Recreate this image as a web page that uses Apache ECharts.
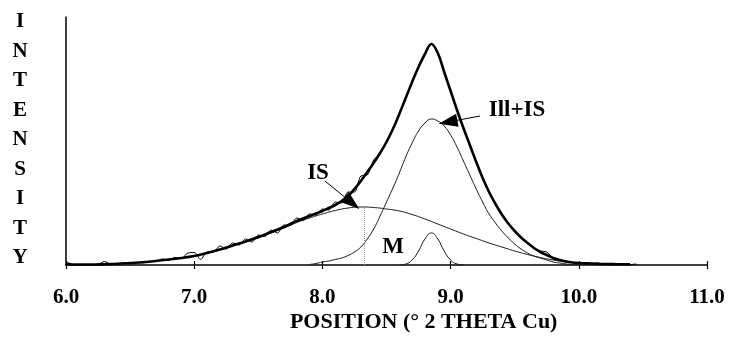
<!DOCTYPE html>
<html>
<head>
<meta charset="utf-8">
<script src="https://cdn.jsdelivr.net/npm/echarts@6/dist/echarts.min.js"></script>
<style>
html,body{margin:0;padding:0;background:#fff;}
#c{width:729px;height:353px;}
</style>
</head>
<body>
<div id="c"></div>
<script>
// ---- data (intensity in arbitrary units) ----
var xTicks = ['6.0','7.0','8.0','9.0','10.0','11.0'];
var xTitle = 'POSITION (° 2 THETA Cu)';
var yLetters = ['I','N','T','E','N','S','I','T','Y'];

var isX = [6.0,6.1,6.2,6.3,6.4,6.5,6.6,6.7,6.8,6.9,7.0,7.1,7.2,7.3,7.4,7.5,7.6,7.7,7.8,7.9,8.0,8.1,8.2,8.3,8.4,8.5,8.6,8.7,8.8,8.9,9.0,9.1,9.2,9.3,9.4,9.5,9.6,9.7,9.8,9.9,10.0,10.1,10.2,10.3];
var isY = [0,0.2,0.4,0.7,1.2,2,2.8,4,5.5,7,9,12,15,19,23,27,32,37,42.5,47,51,54.5,57,58,57.5,56,54,50.5,46,41,36,31,26.5,22,18,14,10.5,7.5,5,3,1.8,1,0.5,0];

var illX = [7.9,7.95,8.0,8.05,8.1,8.15,8.2,8.25,8.3,8.35,8.4,8.45,8.5,8.55,8.6,8.65,8.7,8.75,8.8,8.85,8.9,8.95,9.0,9.05,9.1,9.15,9.2,9.25,9.3,9.35,9.4,9.45,9.5,9.55,9.6,9.65,9.7,9.75,9.8,9.85,9.9,9.95,10.0];
var illY = [0.5,1.5,3,4,5.5,7,9.5,13,18,26,36,49,63,77,92,108,122,134,142,146,144,139,130,118,104,90,76,63,51,42,34,27,21,16,12,9,7,5,3,2,1,0.5,0];

var mX = [8.6,8.65,8.7,8.75,8.8,8.85,8.9,8.95,9.0,9.05,9.1];
var mY = [0,1,5,14,26,32,26,14,5,1,0];

var totX = [6.0,6.1,6.2,6.3,6.4,6.5,6.6,6.7,6.8,6.9,7.0,7.1,7.2,7.3,7.4,7.5,7.6,7.7,7.8,7.9,
            7.95,8.0,8.05,8.1,8.15,8.2,8.25,8.3,8.35,8.4,8.45,8.5,8.55,8.6,8.65,8.7,8.75,8.8,8.85,8.9,8.95,9.0,9.05,9.1,9.15,9.2,9.25,9.3,9.35,9.4,9.45,9.5,9.55,9.6,9.65,9.7,9.75,9.8,9.85,9.9,9.95,10.0,
            10.1,10.2,10.3,10.4];
var totY = [1,0.5,0.5,0.8,1.2,2,2.8,4,5.5,7,9,12,15.5,19.5,23.5,28,33,38,44,49,
            51.5,54,57,60,64,69,76,84,93,102,112,123,136,151,167,183,198,211,221,212,193,174,155,137,120,103,87,73,61,50.5,41.5,34,27.5,22,17,13,10,7,5,3.5,2.5,2,
            1.5,1,0.8,0.6];

var rawLX = [6.0,6.05,6.1,6.15,6.2,6.25,6.3,6.35,6.4,6.45,6.5,6.55,6.6,6.65,6.7,6.75,6.8,6.85,6.9,6.95,7.0,7.05,7.1,7.15,7.2,7.25,7.3,7.35,7.4,7.45,7.5,7.55,7.6,7.65,7.7,7.75,7.8,7.85,7.9,7.95,8.0,8.05,8.1,8.15,8.2,8.25,8.3,8.35,8.4,8.45,8.5];
var rawLY = [3.5,0.5,0,0.3,0.2,0.5,3.5,1,1,1.8,1.5,2.5,2.2,3.5,3.5,6,4.5,7.5,6.5,12,12.5,5.5,13,13,19,16,22,20,26,23,30,28.5,35,32,40,39.5,47,44.5,51,50,56,55,63,62,73,73,89,90,105,111,123];
var rawRX = [9.55,9.6,9.65,9.7,9.75,9.8,9.85,9.9,9.95,10.0,10.05,10.1,10.15,10.2,10.25,10.3,10.35,10.4,10.45];
var rawRY = [27,22,17,14,13,7,5,4,2.5,2,2.5,1.5,2,1,1.5,0.8,1.2,0.5,1];

// annotation anchors (data coordinates)
var isArrow = [[8.02,84],[8.231,62]];
var illArrow = [[9.229,149],[8.98,143]];
var labels = [
  {text:'IS', at:[7.966,92]},
  {text:'Ill+IS', at:[9.518,155]},
  {text:'M', at:[8.551,18]}
];
var titleAt = [8.79, -57];
var isPeakX = 8.33, isPeakY = 57;

function pairs(xs, ys){ return xs.map(function(v,i){return [v, ys[i]];}); }

var FONT = 'Liberation Serif';
var chart = echarts.init(document.getElementById('c'));
var thin = {color:'#1a1a1a', width:1};

chart.setOption({
  animation:false,
  backgroundColor:'#fff',
  grid:{left:66, right:22, top:17, bottom:88},
  xAxis:[{
    type:'value', min:6, max:11, interval:1,
    axisLine:{lineStyle:{color:'#000', width:1.5}},
    axisTick:{show:true, inside:false, length:4, lineStyle:{color:'#000', width:1.2}},
    splitLine:{show:false},
    axisLabel:{margin:22, color:'#000', fontFamily:FONT, fontWeight:'bold', fontSize:21,
      formatter:function(v){ return xTicks[Math.round(v-6)]; }}
  },{
    type:'value', min:6, max:11, interval:1, position:'bottom',
    axisLine:{show:false},
    axisTick:{show:true, inside:true, length:4, lineStyle:{color:'#000', width:1.2}},
    axisLabel:{show:false}, splitLine:{show:false}
  }],
  yAxis:{
    type:'value', min:0, max:248,
    axisLine:{show:true, lineStyle:{color:'#000', width:1.5}},
    axisTick:{show:false}, axisLabel:{show:false}, splitLine:{show:false}
  },
  series:[
    {type:'line', name:'IS', data:pairs(isX,isY), smooth:0.5, showSymbol:false, lineStyle:thin, z:2,
      markLine:{silent:true, symbol:['none','none'], label:{show:false},
        lineStyle:{color:'#999', type:'dotted', width:1},
        data:[[{coord:[isPeakX,0]},{coord:[isPeakX,isPeakY]}]]}},
    {type:'line', name:'Ill+IS', data:pairs(illX,illY), smooth:0.5, showSymbol:false, lineStyle:thin, z:2},
    {type:'line', name:'M', data:pairs(mX,mY), smooth:0.5, showSymbol:false, lineStyle:thin, z:2},
    {type:'line', name:'rawL', data:pairs(rawLX,rawLY), smooth:0.3, showSymbol:false, lineStyle:{color:'#000', width:1}, z:3},
    {type:'line', name:'rawR', data:pairs(rawRX,rawRY), smooth:0.3, showSymbol:false, lineStyle:{color:'#000', width:1}, z:3},
    {type:'line', name:'total', data:pairs(totX,totY), smooth:0.4, showSymbol:false, lineStyle:{color:'#000', width:2.6}, z:4,
      markLine:{silent:true, symbol:['none','triangle'], symbolSize:[13,19], label:{show:false},
        lineStyle:{color:'#000', width:1, type:'solid'},
        data:[
          [{coord:isArrow[0]},{coord:isArrow[1]}],
          [{coord:illArrow[0]},{coord:illArrow[1]}]
        ]}}
  ]
});

var g = labels.map(function(l){
  var p = chart.convertToPixel({xAxisIndex:0, yAxisIndex:0}, l.at);
  return {type:'text', x:p[0], y:p[1], z:10,
    style:{text:l.text, fill:'#000', font:'bold 23px "'+FONT+'"', textAlign:'center', textVerticalAlign:'middle'}};
});
var tp = chart.convertToPixel({xAxisIndex:0, yAxisIndex:0}, titleAt);
g.push({type:'text', x:tp[0], y:tp[1], z:10,
  style:{text:xTitle, fill:'#000', font:'bold 22px "'+FONT+'"', textAlign:'center', textVerticalAlign:'middle'}});
g.push({type:'text', x:20, y:140, z:10,
  style:{text:yLetters.join('\n'), fill:'#000', font:'bold 21px "'+FONT+'"', lineHeight:29.5,
    textAlign:'center', textVerticalAlign:'middle'}});
chart.setOption({graphic:g});
</script>
</body>
</html>
